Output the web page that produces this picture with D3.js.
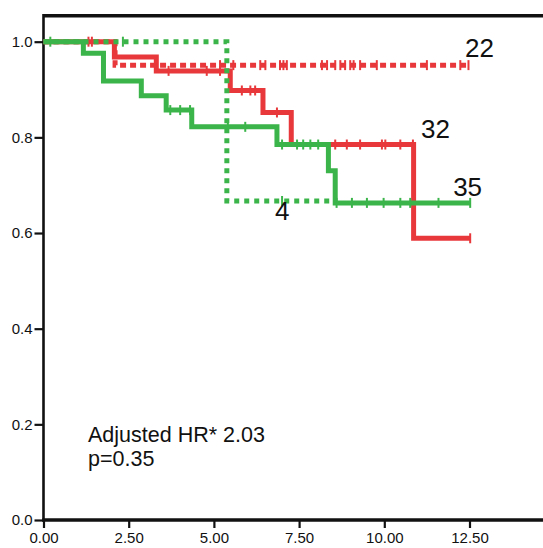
<!DOCTYPE html>
<html>
<head>
<meta charset="utf-8">
<script src="https://cdn.jsdelivr.net/npm/d3@7"></script>
<style>
  html, body { margin: 0; padding: 0; background: #fff; }
  svg { display: block; }
  .tick text { font-family: "Liberation Sans Narrow", "Liberation Sans", Arial, sans-serif; font-size: 15px; fill: #111; }
  .lbl { font-family: "Liberation Sans", Arial, sans-serif; fill: #111; }
</style>
</head>
<body>
<svg id="chart" width="543" height="548"></svg>
<script>
// Kaplan–Meier step data: event times and survival after each step
const redSolidTimes = [0, 2.08, 3.31, 5.48, 6.44, 7.27, 10.86, 12.52];
const redSolidSurv  = [1.0, 0.968, 0.939, 0.898, 0.852, 0.785, 0.589, 0.589];
const redSolidCensor = [1.32, 1.42, 3.67, 4.79, 5.18, 5.82, 6.07, 6.21, 6.85, 8.56, 8.9, 9.29, 9.93, 10.03, 10.47, 10.84, 12.52];

const redDotTimes = [0, 2.1, 12.47];
const redDotSurv  = [1.0, 0.951, 0.951];
const redDotCensor = [5.18, 5.57, 6.36, 6.51, 6.94, 7.04, 7.14, 8.17, 8.32, 8.56, 8.71, 8.85, 9.0, 9.1, 9.29, 9.78, 11.25, 12.23, 12.47];

const greenSolidTimes = [0, 1.17, 1.76, 2.87, 3.60, 4.35, 6.85, 8.36, 8.56, 12.52];
const greenSolidSurv  = [1.0, 0.976, 0.918, 0.887, 0.857, 0.822, 0.785, 0.730, 0.663, 0.663];
const greenSolidCensor = [0.2, 3.72, 4.01, 4.30, 5.41, 5.92, 7.0, 7.44, 7.62, 7.83, 8.06, 8.6, 9.05, 9.49, 9.98, 10.47, 10.76, 11.59, 12.52];

const greenDotTimes = [0, 5.38, 8.6];
const greenDotSurv  = [1.0, 0.667, 0.667];
const greenDotCensor = [2.33, 7.0];

// Group sizes written at the end of each curve
const groupLabels = ["22", "32", "35", "4"];
const groupLabelAt = [[12.37, 0.968], [11.08, 0.799], [12.02, 0.677], [6.79, 0.627]];

const xTicks = [0, 2.5, 5, 7.5, 10, 12.5];
const yTicks = [0, 0.2, 0.4, 0.6, 0.8, 1.0];

const annotation = ["Adjusted HR* 2.03", "p=0.35"];

const RED = "#e8383b";
const GREEN = "#3bb54a";

const svg = d3.select("#chart");

const x = d3.scaleLinear().domain([0, 15]).range([43.5, 43.5 + 15 * 34.08]);
const y = d3.scaleLinear().domain([0, 1]).range([520, 41.7]);

// axes
const yAxis = d3.axisLeft(y).tickValues(yTicks).tickFormat(d3.format(".1f")).tickSize(9).tickPadding(2).tickSizeOuter(0);
const xAxis = d3.axisBottom(x).tickValues(xTicks).tickFormat(d3.format(".2f")).tickSize(8).tickPadding(4).tickSizeOuter(0);

const gy = svg.append("g").attr("transform", `translate(${x(0)},0)`).call(yAxis);
gy.select(".domain").remove();
gy.selectAll(".tick line").attr("stroke", "#111").attr("stroke-width", 2.2);

const gx = svg.append("g").attr("transform", `translate(0,${y(0)})`).call(xAxis);
gx.select(".domain").remove();
gx.selectAll(".tick line").attr("stroke", "#111").attr("stroke-width", 2.2);

// frame lines
svg.append("line").attr("x1", x(0)).attr("x2", 543).attr("y1", 15.7).attr("y2", 15.7)
  .attr("stroke", "#111").attr("stroke-width", 3.4);
svg.append("line").attr("x1", x(0)).attr("x2", x(0)).attr("y1", 14).attr("y2", y(0) + 1.5)
  .attr("stroke", "#111").attr("stroke-width", 2.6);
svg.append("line").attr("x1", x(0) - 1.3).attr("x2", 543).attr("y1", y(0)).attr("y2", y(0))
  .attr("stroke", "#111").attr("stroke-width", 3.4);

const line = d3.line().x(d => x(d[0])).y(d => y(d[1])).curve(d3.curveStepAfter);

function survAt(times, surv, t) {
  const i = Math.max(0, d3.bisectRight(times, t) - 1);
  return surv[i];
}

function drawCurve(times, surv, censor, color, dash, width) {
  const pts = times.map((t, i) => [t, surv[i]]);
  svg.append("path").datum(pts)
    .attr("d", line)
    .attr("fill", "none")
    .attr("stroke", color)
    .attr("stroke-width", width)
    .attr("stroke-dasharray", dash)
    .attr("stroke-linejoin", "miter");
  svg.append("g").selectAll("line").data(censor).join("line")
    .attr("x1", d => x(d)).attr("x2", d => x(d))
    .attr("y1", d => y(survAt(times, surv, d)) - 5)
    .attr("y2", d => y(survAt(times, surv, d)) + 5)
    .attr("stroke", color).attr("stroke-width", 2);
}

drawCurve(redSolidTimes, redSolidSurv, redSolidCensor, RED, null, 5);
drawCurve(redDotTimes, redDotSurv, redDotCensor, RED, "6,4", 5);
drawCurve(greenSolidTimes, greenSolidSurv, greenSolidCensor, GREEN, null, 5);
drawCurve(greenDotTimes, greenDotSurv, greenDotCensor, GREEN, "5,5", 5);

// group size labels
svg.append("g").selectAll("text").data(groupLabels).join("text")
  .attr("class", "lbl")
  .attr("x", (d, i) => x(groupLabelAt[i][0]))
  .attr("y", (d, i) => y(groupLabelAt[i][1]))
  .attr("font-size", 26)
  .text(d => d);

// hazard ratio annotation
svg.append("g").selectAll("text").data(annotation).join("text")
  .attr("class", "lbl")
  .attr("x", 88)
  .attr("y", (d, i) => 442 + i * 23.5)
  .attr("font-size", 21.5)
  .text(d => d);
</script>
</body>
</html>
